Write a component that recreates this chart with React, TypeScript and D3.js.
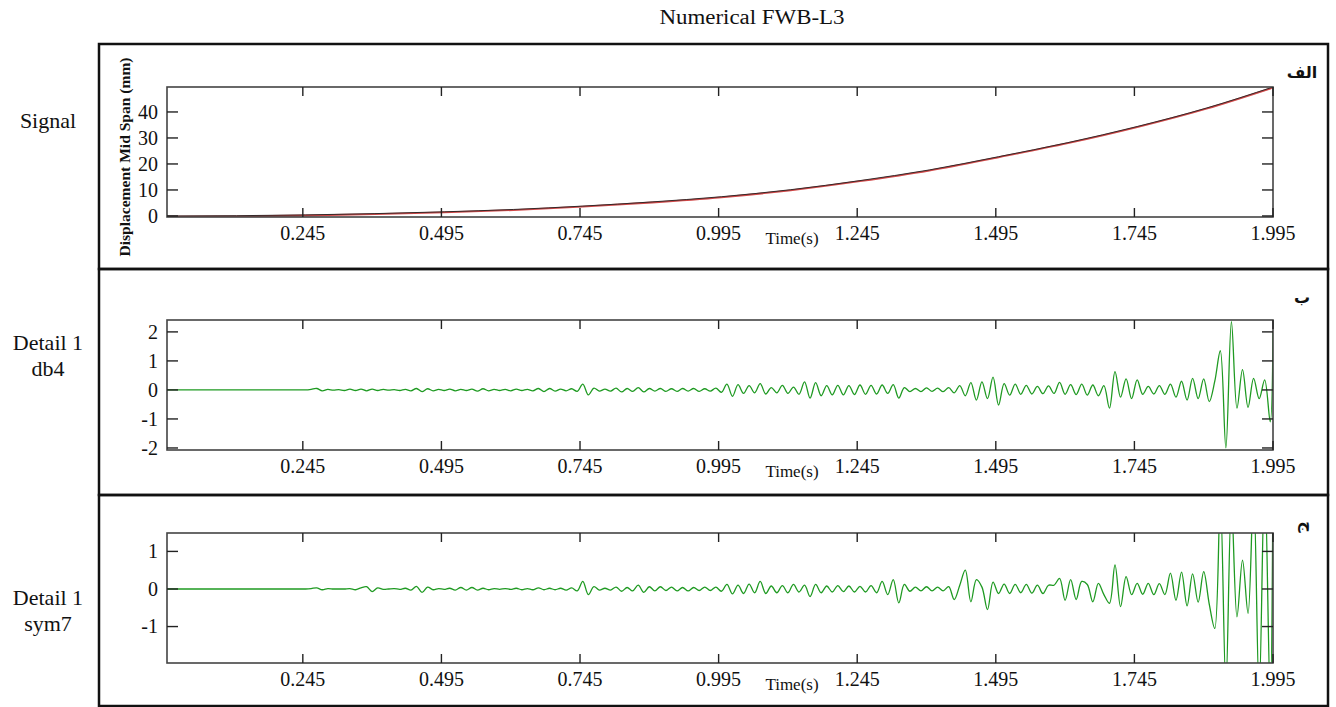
import React from "react";
import * as d3 from "d3";

// ---------- data ----------
const xTicks = [0.245, 0.495, 0.745, 0.995, 1.245, 1.495, 1.745, 1.995];
const signalTicks = [0, 10, 20, 30, 40];
const db4Ticks = [-2, -1, 0, 1, 2];
const sym7Ticks = [-1, 0, 1];

const signalTime = [0, 0.125, 0.25, 0.375, 0.5, 0.625, 0.75, 0.875, 1.0, 1.125, 1.25, 1.375, 1.5, 1.625, 1.75, 1.875, 1.995];
const signalValue = [0, 0.1, 0.4, 0.9, 1.6, 2.5, 3.8, 5.4, 7.4, 10.1, 13.6, 17.7, 22.8, 28.2, 34.4, 41.5, 49.6];

const detailStep = 0.01;
const detailEnd = 1.995;

const detailDb4 = [
  0, 0, 0, 0, 0, 0, 0, 0, 0, 0, 0, 0, 0, 0, 0, 0, 0, 0, 0, 0,
  0, 0, 0, 0, 0, 0, 0.02, 0.05, -0.03, 0.02, -0.01, 0.01, -0.02, 0.03, -0.02, 0.03, -0.03, 0.03, -0.02, 0.02,
  -0.01, 0.01, -0.02, 0.02, -0.03, 0.05, -0.06, 0.04, -0.03, 0.02, -0.02, 0.03, -0.03, 0.02, -0.02, 0.03, -0.04, 0.04, -0.03, 0.02,
  -0.02, 0.02, -0.03, 0.03, -0.02, 0.02, -0.03, 0.05, -0.06, 0.05, -0.04, 0.03, -0.03, 0.04, -0.05, 0.2, -0.17, 0.06, -0.04, 0.03,
  -0.04, 0.06, -0.07, 0.05, -0.05, 0.08, -0.07, 0.05, -0.04, 0.05, -0.05, 0.04, -0.05, 0.05, -0.04, 0.05, -0.05, 0.04, -0.04, 0.06,
  -0.08, 0.2, -0.22, 0.18, -0.12, 0.15, -0.1, 0.22, -0.14, 0.08, -0.1, 0.16, -0.12, 0.1, -0.15, 0.28, -0.28, 0.25, -0.2, 0.15,
  -0.17, 0.16, -0.17, 0.15, -0.16, 0.17, -0.15, 0.16, -0.14, 0.17, -0.12, 0.18, -0.28, 0.08, -0.06, 0.05, -0.06, 0.07, -0.05, 0.06,
  -0.06, 0.08, -0.1, 0.15, -0.2, 0.25, -0.35, 0.28, -0.3, 0.44, -0.52, 0.22, -0.18, 0.2, -0.15, 0.16, -0.14, 0.12, -0.13, 0.14,
  -0.12, 0.26, -0.15, 0.18, -0.16, 0.2, -0.18, 0.17, -0.2, 0.15, -0.63, 0.63, -0.25, 0.38, -0.3, 0.35, -0.15, 0.12, -0.14, 0.15,
  -0.15, 0.2, -0.25, 0.3, -0.35, 0.4, -0.3, 0.38, -0.4, 0.3, 1.35, -2.0, 2.35, -0.63, 0.7, -0.6, 0.4, -0.3, 0.35, -1.1,
  2.0,
];

const detailSym7 = [
  0, 0, 0, 0, 0, 0, 0, 0, 0, 0, 0, 0, 0, 0, 0, 0, 0, 0, 0, 0,
  0, 0, 0, 0, 0, 0, 0.01, 0.03, -0.02, 0.01, 0, 0, 0, 0.01, -0.02, 0.03, 0.06, -0.07, 0.03, -0.01,
  0, 0.01, -0.01, 0.02, -0.03, 0.07, -0.09, 0.05, -0.02, 0.01, -0.01, 0.02, -0.03, 0.04, -0.03, 0.04, -0.03, 0.02, -0.02, 0.01,
  -0.01, 0.01, -0.01, 0.02, -0.02, 0.01, -0.02, 0.03, -0.02, 0.02, -0.02, 0.02, -0.03, 0.03, -0.05, 0.2, -0.15, 0.06, -0.03, 0.02,
  -0.03, 0.05, -0.06, 0.04, -0.05, 0.1, -0.09, 0.06, -0.05, 0.06, -0.04, 0.05, -0.05, 0.04, -0.05, 0.04, -0.04, 0.05, -0.04, 0.05,
  -0.06, 0.12, -0.13, 0.1, -0.12, 0.13, -0.1, 0.2, -0.12, 0.08, -0.1, 0.09, -0.1, 0.12, -0.08, 0.1, -0.2, 0.12, -0.1, 0.08,
  -0.08, 0.09, -0.07, 0.08, -0.08, 0.07, -0.08, 0.09, -0.1, 0.2, -0.15, 0.25, -0.37, 0.12, -0.06, 0.05, -0.05, 0.06, -0.05, 0.05,
  -0.05, 0.06, -0.28, 0.1, 0.5, -0.34, 0.25, 0.05, -0.55, 0.18, -0.12, 0.13, -0.12, 0.12, -0.1, 0.12, -0.11, 0.1, -0.12, 0.1,
  0.1, 0.28, -0.3, 0.25, -0.28, 0.2, 0.12, -0.34, 0.15, -0.15, -0.38, 0.64, -0.47, 0.33, -0.15, 0.15, -0.14, 0.15, -0.15, 0.14,
  -0.15, 0.42, -0.3, 0.45, -0.45, 0.4, -0.35, 0.46, -0.4, -1.05, 2.4, -2.6, 2.3, -0.74, 0.77, -0.65, 2.6, -2.8, 3, -3,
  3,
];

// ---------- layout ----------
const W = 1336;
const H = 707;
const X0 = 167;
const X1 = 1273;
const FONT = "'Liberation Serif', 'Times New Roman', serif";

type Pt = { t: number; v: number };

const toDetail = (vals: number[]): Pt[] =>
  vals.map((v, i) => ({ t: i < vals.length - 1 ? i * detailStep : detailEnd, v }));

const panels = [
  { key: "sig", boxTop: 44, boxBottom: 269, top: 87, bottom: 217, domain: [-0.4, 49.6], ticks: signalTicks, label: ["Signal"], labelY: [128], arabic: "الف", arY: 78, arRot: 0 },
  { key: "db4", boxTop: 269, boxBottom: 495, top: 320, bottom: 450, domain: [-2.07, 2.41], ticks: db4Ticks, label: ["Detail 1", "db4"], labelY: [350, 376], arabic: "ب", arY: 303, arRot: 0 },
  { key: "sym7", boxTop: 495, boxBottom: 706, top: 533, bottom: 663, domain: [-1.97, 1.49], ticks: sym7Ticks, label: ["Detail 1", "sym7"], labelY: [605, 631], arabic: "ج", arY: 527, arRot: 90 },
];

export default function App() {
  const x = d3.scaleLinear().domain([0, 1.995]).range([X0, X1]);
  const sigData: Pt[] = signalTime.map((t, i) => ({ t, v: signalValue[i] }));
  const db4Data = toDetail(detailDb4);
  const sym7Data = toDetail(detailSym7);

  return (
    <svg width={W} height={H} style={{ position: "absolute", left: 0, top: 0, background: "#fff" }} fontFamily={FONT}>
      <rect x={0} y={0} width={W} height={H} fill="#fff" />
      <text x={752} y={24} fontSize={20} textAnchor="middle" textLength={185} lengthAdjust="spacingAndGlyphs" fill="#111">
        Numerical FWB-L3
      </text>
      {panels.map((p, pi) => {
        const y = d3.scaleLinear().domain(p.domain).range([p.bottom, p.top]);
        const line = d3
          .line<Pt>()
          .x((d) => x(d.t))
          .y((d) => y(d.v))
          .curve(pi === 0 ? d3.curveMonotoneX : d3.curveCatmullRom.alpha(0.5));
        const clipId = `clip-${p.key}`;
        return (
          <g key={p.key}>
            {/* outer box */}
            <rect x={99} y={p.boxTop} width={1229} height={p.boxBottom - p.boxTop} fill="none" stroke="#111" strokeWidth={2.5} />
            {/* side label */}
            {p.label.map((s, i) => (
              <text key={i} x={48} y={p.labelY[i]} fontSize={22} textAnchor="middle" fill="#111">
                {s}
              </text>
            ))}
            <text
              transform={`translate(1302,${p.arY}) rotate(${p.arRot})`}
              fontSize={16}
              fontWeight="bold"
              textAnchor="middle"
              fontFamily="'DejaVu Sans', 'Noto Sans', sans-serif"
              fill="#111"
            >
              {p.arabic}
            </text>
            <defs>
              <clipPath id={clipId}>
                <rect x={X0} y={p.top} width={X1 - X0} height={p.bottom - p.top} />
              </clipPath>
            </defs>
            {/* data */}
            <g clipPath={`url(#${clipId})`}>
              {pi === 0 ? (
                <>
                  <path d={line(sigData) || ""} fill="none" stroke="#d04848" strokeWidth={1.8} transform="translate(0,0.6)" />
                  <path d={line(sigData) || ""} fill="none" stroke="#222" strokeWidth={0.9} />
                </>
              ) : (
                <path d={line(pi === 1 ? db4Data : sym7Data) || ""} fill="none" stroke="#1f9a22" strokeWidth={1.3} />
              )}
            </g>
            {/* frame */}
            <rect x={X0} y={p.top} width={X1 - X0} height={p.bottom - p.top} fill="none" stroke="#444" strokeWidth={1.6} />
            {/* x ticks */}
            {xTicks.map((t) => (
              <g key={t}>
                <line x1={x(t)} x2={x(t)} y1={p.top} y2={p.top + 9} stroke="#222" strokeWidth={1.4} />
                <line x1={x(t)} x2={x(t)} y1={p.bottom} y2={p.bottom - 9} stroke="#222" strokeWidth={1.4} />
                <text x={x(t)} y={p.bottom + 23} fontSize={20} textAnchor="middle" fill="#111">
                  {t.toFixed(3)}
                </text>
              </g>
            ))}
            <text x={792} y={p.bottom + 27} fontSize={17} textAnchor="middle" fill="#111">
              Time(s)
            </text>
            {/* y ticks */}
            {p.ticks.map((v) => (
              <g key={v}>
                <line x1={X0} x2={X0 + 11} y1={y(v)} y2={y(v)} stroke="#222" strokeWidth={1.4} />
                <line x1={X1} x2={X1 - 11} y1={y(v)} y2={y(v)} stroke="#222" strokeWidth={1.4} />
                <text x={158} y={y(v)} dy="0.34em" fontSize={20} textAnchor="end" fill="#111">
                  {v}
                </text>
              </g>
            ))}
            {pi === 0 && (
              <text
                transform="translate(130,157) rotate(-90)"
                fontSize={15}
                fontWeight="bold"
                textAnchor="middle"
                textLength={199}
                lengthAdjust="spacingAndGlyphs"
                fill="#111"
              >
                Displacement Mid  Span (mm)
              </text>
            )}
          </g>
        );
      })}
    </svg>
  );
}
